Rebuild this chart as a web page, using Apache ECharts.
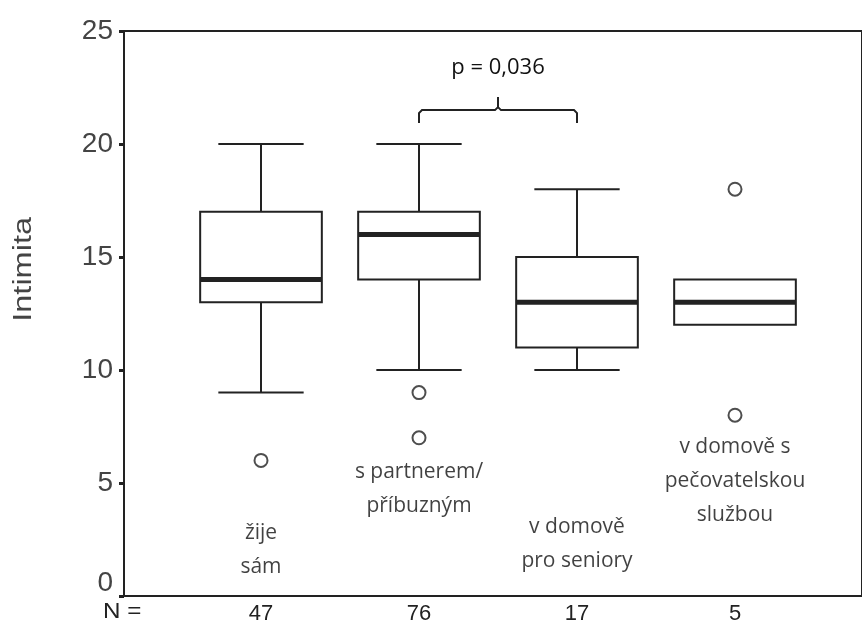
<!DOCTYPE html>
<html>
<head>
<meta charset="utf-8">
<script src="https://cdn.jsdelivr.net/npm/echarts@6/dist/echarts.min.js"></script>
<style>
  html, body { margin: 0; padding: 0; background: #fff; }
  #chart { width: 862px; height: 626px; }
</style>
</head>
<body>
<div id="chart"></div>
<script>
// skupiny
const groups = ['žije\nsám', 's partnerem/\npříbuzným', 'v domově\npro seniory', 'v domově s\npečovatelskou\nslužbou'];
const counts = [47, 76, 17, 5];
// [min, Q1, median, Q3, max]  (null = no whisker)
const boxStats = [
  [9, 13, 14, 17, 20],
  [10, 14, 16, 17, 20],
  [10, 11, 13, 15, 18],
  [null, 12, 13, 14, null]
];
// [group index, value]
const outliers = [[0, 6], [1, 9], [1, 7], [3, 18], [3, 8]];
const yTicks = [0, 5, 10, 15, 20, 25];
const pText = 'p = 0,036';
const pPair = [1, 2];

// where the group names sit (value units)
const labelLevel = [2.05, 4.75, 2.3, 5.1];

const ink = '#222';
const chart = echarts.init(document.getElementById('chart'));

const boxData = boxStats.map((s, i) => [i].concat(s));

function renderBox(params, api) {
  const c = api.value(0);
  const bw = api.size([1, 0])[0];
  const half = bw * 0.385, cap = bw * 0.27;
  const x = api.coord([c, 0])[0];
  const y = v => api.coord([c, v])[1];
  const lo = api.value(1), q1 = api.value(2), med = api.value(3), q3 = api.value(4), hi = api.value(5);
  const line = (x1, y1, x2, y2, w) => ({
    type: 'line', shape: { x1, y1, x2, y2 }, style: { stroke: ink, lineWidth: w || 2 }
  });
  const kids = [];
  if (hi !== null && !isNaN(hi)) {
    kids.push(line(x, y(hi), x, y(q3)));
    kids.push(line(x - cap, y(hi), x + cap, y(hi)));
  }
  if (lo !== null && !isNaN(lo)) {
    kids.push(line(x, y(q1), x, y(lo)));
    kids.push(line(x - cap, y(lo), x + cap, y(lo)));
  }
  kids.push({
    type: 'rect',
    shape: { x: x - half, y: y(q3), width: half * 2, height: y(q1) - y(q3) },
    style: { fill: '#fff', stroke: ink, lineWidth: 2 }
  });
  kids.push(line(x - half, y(med), x + half, y(med), 5));
  return { type: 'group', children: kids };
}

function renderBracket(params, api) {
  const a = api.coord([api.value(0), api.value(2)]);
  const b = api.coord([api.value(1), api.value(2)]);
  const yy = a[1], mid = (a[0] + b[0]) / 2;
  return {
    type: 'group',
    children: [
      {
        type: 'polyline',
        shape: { points: [[a[0], yy + 13], [a[0], yy + 3], [a[0] + 3, yy], [mid - 3, yy], [mid, yy - 3], [mid, yy - 13]] },
        style: { stroke: ink, lineWidth: 2, fill: null }
      },
      {
        type: 'polyline',
        shape: { points: [[b[0], yy + 13], [b[0], yy + 3], [b[0] - 3, yy], [mid + 3, yy], [mid, yy - 3]] },
        style: { stroke: ink, lineWidth: 2, fill: null }
      },
      {
        type: 'text',
        style: { x: mid, y: yy - 42, text: pText, fill: '#111', fontSize: 22, fontFamily: 'Open Sans', align: 'center', verticalAlign: 'middle' }
      }
    ]
  };
}

const option = {
  animation: false,
  backgroundColor: '#fff',
  grid: [
    { left: 124, right: -10, top: 31, bottom: 30, show: true, borderColor: ink, borderWidth: 2, backgroundColor: 'transparent' },
    { left: 182, right: 48, top: 31, bottom: 30 }
  ],
  xAxis: [
    { gridIndex: 0, type: 'value', min: 0, max: 1, show: false },
    {
      gridIndex: 1, type: 'category', data: groups,
      axisLine: { show: false }, axisTick: { show: false },
      axisLabel: {
        margin: 7, color: ink, fontSize: 22, fontFamily: 'Liberation Sans',
        formatter: (v, i) => String(counts[i])
      }
    }
  ],
  yAxis: [
    {
      gridIndex: 0, type: 'value', min: 0, max: 25, interval: 5,
      axisLine: { show: true, lineStyle: { color: ink, width: 2 } },
      axisTick: { show: true, length: 5, lineStyle: { color: ink, width: 3 } },
      splitLine: { show: false },
      axisLabel: {
        margin: 11, color: '#444', fontSize: 28, fontFamily: 'Liberation Sans',
        formatter: v => yTicks.indexOf(v) < 0 ? '' : (v === 0 ? '{zero|0}' : String(v)),
        rich: {
          zero: { fontSize: 28, fontFamily: 'Liberation Sans', color: '#444', padding: [0, 0, 26, 0] }
        }
      }
    },
    { gridIndex: 1, type: 'value', min: 0, max: 25, show: false }
  ],
  graphic: [
    {
      type: 'text', left: 12, top: 217, rotation: Math.PI / 2, scaleX: 1.3,
      style: { text: 'Intimita', fill: '#444', fontSize: 25, fontFamily: 'Liberation Sans' }
    },
    {
      type: 'text', left: 103, top: 601, scaleX: 1.1,
      style: { text: 'N =', fill: ink, fontSize: 22, fontFamily: 'Liberation Sans' }
    }
  ],
  series: [
    {
      type: 'custom', xAxisIndex: 1, yAxisIndex: 1,
      renderItem: renderBox, data: boxData,
      encode: { x: 0, y: [1, 2, 3, 4, 5] }, z: 2
    },
    {
      type: 'scatter', xAxisIndex: 1, yAxisIndex: 1,
      data: outliers, symbol: 'circle', symbolSize: 13,
      itemStyle: { color: '#fff', borderColor: ink, borderWidth: 2 }, z: 3
    },
    {
      type: 'scatter', xAxisIndex: 1, yAxisIndex: 1,
      data: groups.map((g, i) => [i, labelLevel[i]]),
      symbolSize: 0, silent: true,
      label: {
        show: true, position: 'inside', formatter: p => groups[p.dataIndex],
        color: '#111', fontSize: 21, lineHeight: 34, fontFamily: 'Open Sans'
      }
    },
    {
      type: 'custom', xAxisIndex: 1, yAxisIndex: 1,
      renderItem: renderBracket, data: [[pPair[0], pPair[1], 21.5]],
      encode: { x: [0, 1], y: 2 }, z: 4
    }
  ]
};
chart.setOption(option);
</script>
</body>
</html>
